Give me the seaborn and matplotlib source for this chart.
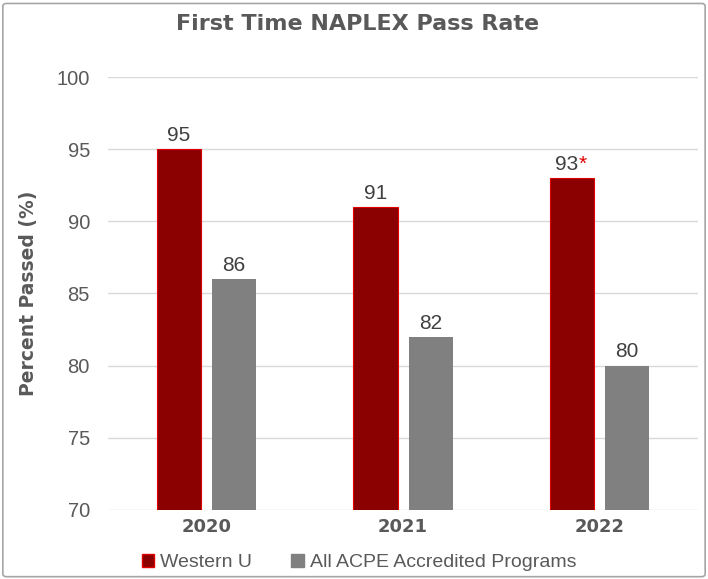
import matplotlib
matplotlib.use("Agg")
import matplotlib.pyplot as plt
from matplotlib.patches import FancyBboxPatch, Patch
import seaborn as sns
import pandas as pd

years = ["2020", "2021", "2022"]
westernu = [95, 91, 93]
acpe = [86, 82, 80]
series_names = ["Western U", "All ACPE Accredited Programs"]
yticks = [70, 75, 80, 85, 90, 95, 100]

df = pd.DataFrame({
    "Year": years * 2,
    "Rate": westernu + acpe,
    "Series": [series_names[0]] * 3 + [series_names[1]] * 3,
})

sns.set_theme(style="white")
plt.rcParams["font.family"] = ["DejaVu Sans"]

fig = plt.figure(figsize=(7.08, 5.79), dpi=100)
ax = fig.add_axes([0.1525, 0.1192, 0.8335, 0.7478])

red = "#8B0000"
grey = "#808080"
sns.barplot(data=df, x="Year", y="Rate", hue="Series", palette=[red, grey],
            width=0.56, gap=0.2, ax=ax, legend=False, saturation=1)

for p in ax.patches[:3]:
    p.set_edgecolor("#E00000")
    p.set_linewidth(0.8)
for p in ax.patches[3:6]:
    p.set_edgecolor(grey)
    p.set_linewidth(0)

ax.set_ylim(70, 100)
ax.set_xlim(-0.5, 2.5)
ax.set_yticks(yticks)
ax.grid(axis="y", color="#D9D9D9", linewidth=1)
ax.set_axisbelow(True)
for s in ax.spines.values():
    s.set_visible(False)

ax.tick_params(axis="y", length=0, pad=13, labelsize=14.5, labelcolor="#595959")
for t in ax.get_yticklabels():
    t.set_fontfamily("Liberation Sans")
ax.tick_params(axis="x", length=0, pad=6, labelsize=13, labelcolor="#595959")
for t in ax.get_xticklabels():
    t.set_fontweight("bold")

ax.set_xlabel("")
ax.set_ylabel("Percent Passed (%)", fontsize=13.5, fontweight="bold", color="#595959", labelpad=13)

label_color = "#404040"
ax.bar_label(ax.containers[1], fmt="%d", padding=3, fontsize=15, color=label_color,
             fontfamily="Liberation Sans")
labels0 = [str(v) for v in westernu[:2]] + [""]
ax.bar_label(ax.containers[0], labels=labels0, padding=3, fontsize=15, color=label_color,
             fontfamily="Liberation Sans")

# 2022 Western U label with red asterisk
bar = ax.containers[0][2]
cx = bar.get_x() + bar.get_width() / 2
ax.annotate(str(westernu[2]), xy=(cx, westernu[2]), xytext=(4.5, 3), textcoords="offset points",
            ha="right", va="bottom", fontsize=15, color=label_color, fontfamily="Liberation Sans")
ax.annotate("*", xy=(cx, westernu[2]), xytext=(4.8, 3), textcoords="offset points",
            ha="left", va="bottom", fontsize=15, color="#E00000", fontfamily="Liberation Sans")

fig.text(0.505, 0.958, "First Time NAPLEX Pass Rate", ha="center", va="center",
         fontsize=16, fontweight="bold", color="#595959")

handles = [Patch(facecolor=red, edgecolor="#E00000"), Patch(facecolor=grey, edgecolor=grey)]
leg = fig.legend(handles, series_names, loc="center", bbox_to_anchor=(0.507, 0.029), ncol=2,
                 frameon=False, handlelength=0.65, handleheight=0.65,
                 handletextpad=0.3, columnspacing=2.0,
                 prop={"family": "Liberation Sans", "size": 14})
for t in leg.get_texts():
    t.set_color("#595959")

border = FancyBboxPatch((0.004, 0.004), 0.992, 0.99, boxstyle="round,pad=0,rounding_size=0.005",
                        transform=fig.transFigure, fill=False, edgecolor="#A6A6A6", linewidth=1.2)
fig.patches.append(border)

fig.savefig("out.png", dpi=100)
